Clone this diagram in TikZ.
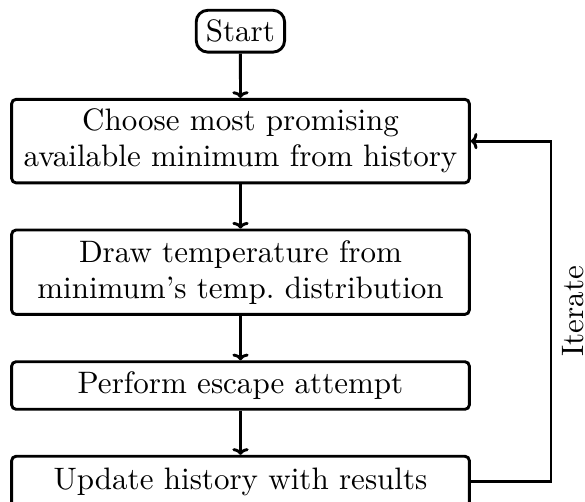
\documentclass[tikz,border=0pt]{standalone}
\usetikzlibrary{calc,arrows.meta}

\begin{document}
\begin{tikzpicture}[x=0.345pt, y=-0.345pt,
    font=\fontsize{10.7}{12.4}\selectfont,
    flowline/.style={line width=1pt, -{To[width=5.6pt,length=2.3pt]}},
    stepbox/.style={draw, line width=1pt, rounded corners=1.5pt,
      minimum width=157.9pt, align=center, inner sep=3.33pt},
    startbox/.style={draw, line width=1pt, rounded corners=4pt, inner sep=3.33pt}]
  \useasboundingbox (0,0) rectangle (585,501);

  % terminal and process steps
  \node[startbox] (start) at (240.4,31.2) {Start};
  \node[stepbox, minimum height=28.7pt] (choose) at (240.5,141.1)
    {Choose most promising\\available minimum from history};
  \node[stepbox, minimum height=29.1pt] (temp) at (240.5,272.2)
    {Draw temperature from\\minimum's temp.\ distribution};
  \node[stepbox, minimum height=16.4pt] (escape) at (240.5,385.5)
    {Perform escape attempt};
  \node[stepbox, minimum height=17.4pt] (update) at (240.5,481.5)
    {Update history with results};

  % forward flow
  \draw[flowline] (start) -- (choose);
  \draw[flowline] (choose) -- (temp);
  \draw[flowline] (temp) -- (escape);
  \draw[flowline] (escape) -- (update);

  % feedback loop with its label beside the vertical run
  \coordinate (loopcorner) at (551,481.5);
  \draw[flowline] (update.east) -- (loopcorner) |- (choose.east);
  \node[rotate=90, anchor=north, inner sep=0pt] (iter)
    at ($(loopcorner)!0.5!(loopcorner |- choose.east) + (10.5,0)$) {Iterate};
\end{tikzpicture}
\end{document}
